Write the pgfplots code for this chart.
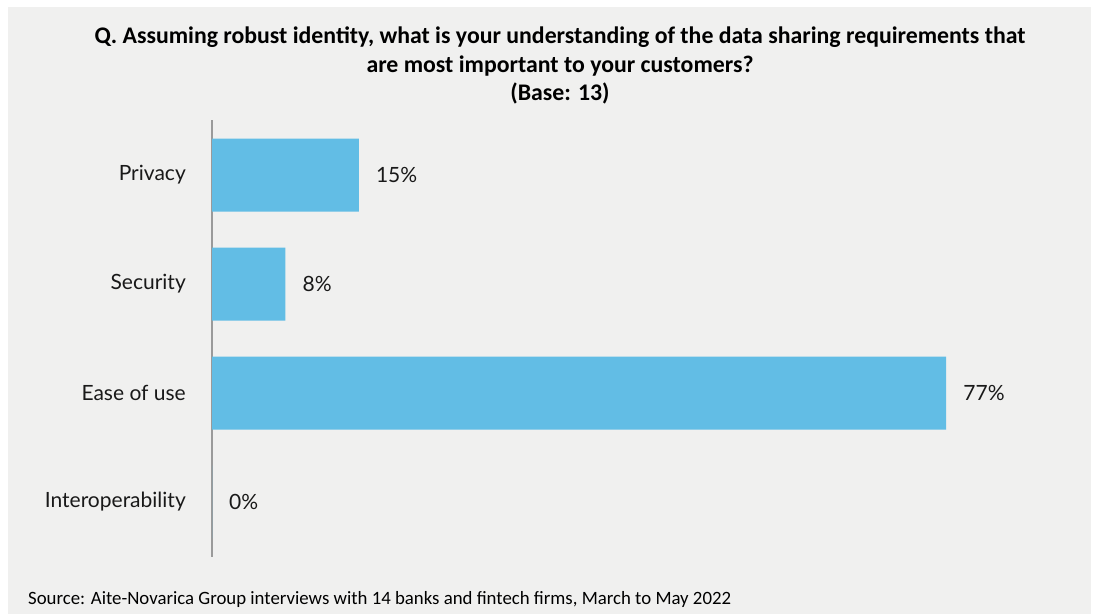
\documentclass[border=0pt]{standalone}
\usepackage{pgfplots}
\pgfplotsset{compat=1.18}
\usepackage{fontspec}
\setmainfont{Lato}
\newfontfamily\carlito{Carlito}
\definecolor{bg}{HTML}{F0F0EF}
\definecolor{barblue}{HTML}{62BDE5}
\definecolor{axisgray}{HTML}{9A9A9A}
\begin{document}
\begin{tikzpicture}[x=1pt,y=1pt]
\useasboundingbox (0,0) rectangle (1094,-614);
\fill[white] (0,0) rectangle (1094,-614);
\fill[bg] (8,-7) rectangle (1091,-614);
\begin{scope}[every node/.style={font=\carlito\bfseries\fontsize{23.8}{28}\selectfont,anchor=base,inner sep=0pt}]
\node at (560,-43) {Q. Assuming robust identity, what is your understanding of the data sharing requirements that};
\node at (560,-72) {are most important to your customers?};
\node at (560,-100) {(Base: 13)};
\end{scope}
\node[anchor=base west,font=\carlito\fontsize{18.8}{22}\selectfont,inner sep=0pt] at (28,-604)
  {Source: Aite-Novarica Group interviews with 14 banks and fintech firms, March to May 2022};
\begin{axis}[
  at={(212pt,-557pt)}, anchor=south west,
  scale only axis,
  width=763.6pt, height=437pt,
  xmin=0, xmax=80,
  ymin=-0.505, ymax=3.505,
  y dir=reverse,
  axis x line=none,
  axis y line*=left,
  y axis line style={axisgray, line width=1.5pt, -},
  ytick={0,1,2,3},
  yticklabels={Privacy,Security,Ease of use,Interoperability},
  yticklabel style={font=\fontsize{21}{24}\selectfont, text=black!90, inner sep=0pt, xshift=-26pt},
  major tick length=0pt,
  tick style={draw=none},
  /pgf/number format/assume math mode=true,
  xbar, bar width=73pt,
  nodes near coords={\pgfmathprintnumber[fixed,precision=0,assume math mode=true]{\pgfplotspointmeta}\%},
  point meta=x,
  nodes near coords style={font=\fontsize{21}{24}\selectfont, text=black!90, anchor=west, inner sep=0pt, xshift=17pt},
  clip=false,
]
\addplot[fill=barblue, draw=none, bar shift=0pt] coordinates {
  (15.38,0) (7.69,1) (76.92,2) (0,3)
};
\end{axis}
\end{tikzpicture}
\end{document}
